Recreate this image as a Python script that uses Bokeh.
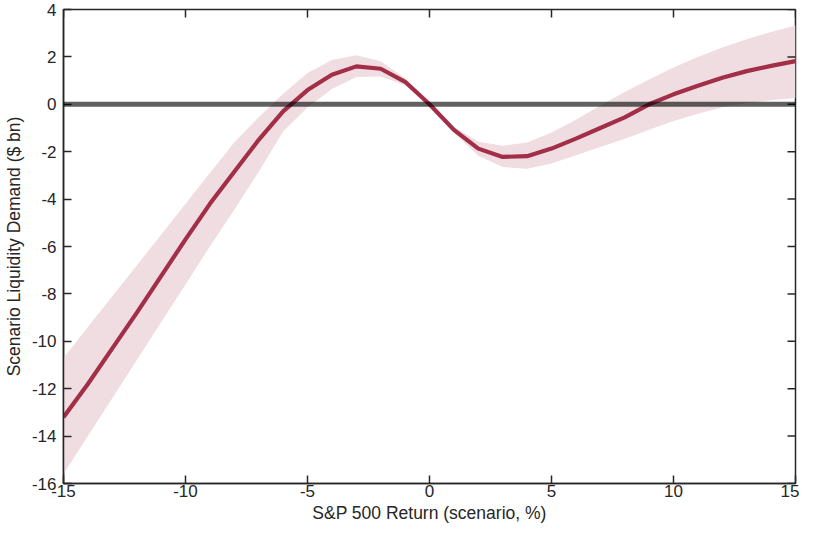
import math
from bokeh.plotting import figure
from bokeh.models import LinearAxis, FixedTicker, Range1d, Span
from bokeh.embed import file_html
from bokeh.resources import INLINE

# S&P 500 return scenarios (%)
returns = list(range(-15, 16))
# Scenario liquidity demand ($ bn): central estimate and band
demand = [-13.2, -11.8, -10.3, -8.8, -7.25, -5.7, -4.2, -2.85, -1.5, -0.3,
          0.6, 1.25, 1.6, 1.5, 0.95, 0.0, -1.08, -1.87, -2.22, -2.19,
          -1.87, -1.45, -1.0, -0.55, 0.0, 0.42, 0.78, 1.12, 1.4, 1.62, 1.82]
upper = [-10.7, -9.4, -8.1, -6.8, -5.5, -4.2, -2.9, -1.6, -0.55, 0.45,
         1.32, 1.87, 2.07, 1.82, 1.1, 0.05, -0.95, -1.58, -1.75, -1.61,
         -1.19, -0.65, -0.05, 0.52, 1.05, 1.55, 2.0, 2.4, 2.75, 3.05, 3.33]
lower = [-15.6, -14.0, -12.4, -10.8, -9.2, -7.6, -6.0, -4.45, -2.85, -1.15,
         -0.13, 0.65, 1.15, 1.17, 0.8, -0.05, -1.2, -2.17, -2.65, -2.72,
         -2.5, -2.15, -1.8, -1.45, -1.07, -0.7, -0.4, -0.12, 0.05, 0.17, 0.27]
x_ticks = [-15, -10, -5, 0, 5, 10, 15]
y_ticks = [-16, -14, -12, -10, -8, -6, -4, -2, 0, 2, 4]
x_title = "S&P 500 Return (scenario, %)"
y_title = "Scenario Liquidity Demand ($ bn)"

FONT = "Liberation Sans"
TXT = "#262626"
TICK_PX = 8

p = figure(width=799, height=525, output_backend="svg", toolbar_location=None,
           x_range=Range1d(x_ticks[0], x_ticks[-1]),
           y_range=Range1d(y_ticks[0], y_ticks[-1]),
           min_border_left=59, min_border_right=4, min_border_top=9,
           min_border_bottom=30, x_axis_location=None, y_axis_location=None)
p.grid.visible = False
p.outline_line_color = TXT
p.outline_line_width = 1.5
p.background_fill_color = "white"

p.varea(x=returns, y1=lower, y2=upper, fill_color="#efdde2", fill_alpha=1.0)
p.line(returns, demand, line_color="#a32e48", line_width=4.2)
p.add_layout(Span(location=0, dimension="width", line_color="black",
                  line_alpha=0.62, line_width=5))

# inward ticks on the top and right edges (clipped to the frame)
p.scatter(x=x_ticks, y=[y_ticks[-1]] * len(x_ticks), marker="dash",
          size=2 * TICK_PX, angle=math.pi / 2, line_color=TXT, line_width=1.5)
p.scatter(x=[x_ticks[-1]] * len(y_ticks), y=y_ticks, marker="dash",
          size=2 * TICK_PX, line_color=TXT, line_width=1.5)

def style(ax, ticks):
    ax.ticker = FixedTicker(ticks=ticks)
    ax.major_label_overrides = {t: str(t) for t in ticks}
    ax.axis_line_color = TXT
    ax.axis_line_width = 1.5
    ax.major_tick_line_color = TXT
    ax.major_tick_line_width = 1.5
    ax.major_tick_in = TICK_PX
    ax.major_tick_out = 0
    ax.minor_tick_line_color = None
    ax.major_label_text_font = FONT
    ax.major_label_text_color = TXT
    ax.major_label_text_font_size = "17px"
    ax.axis_label_text_font = FONT
    ax.axis_label_text_color = TXT
    ax.axis_label_text_font_style = "normal"
    ax.axis_label_text_font_size = "17.5px"

xb = LinearAxis(axis_label=x_title)
style(xb, x_ticks)
xb.major_label_standoff = 1
xb.axis_label_standoff = 3
p.add_layout(xb, "below")

yl = LinearAxis(axis_label=y_title)
style(yl, y_ticks)
yl.major_label_standoff = 7
yl.axis_label_standoff = 5
p.add_layout(yl, "left")

open("out.html", "w").write(file_html(p, INLINE))
